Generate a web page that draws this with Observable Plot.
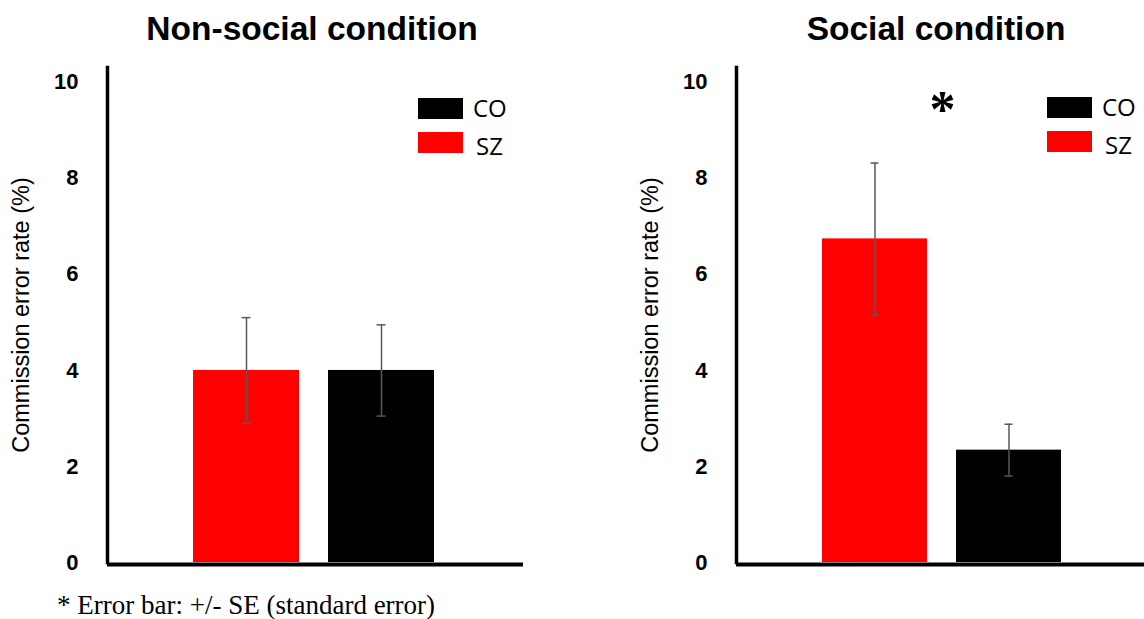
<!DOCTYPE html>
<html>
<head>
<meta charset="utf-8">
<script src="https://cdn.jsdelivr.net/npm/d3@7"></script>
<script src="https://cdn.jsdelivr.net/npm/@observablehq/plot@0.6"></script>
<style>
  html, body { margin: 0; padding: 0; background: #fff; }
  #wrap { position: relative; width: 1144px; height: 619px; overflow: hidden; }
  .panel { position: absolute; top: 0; }
  .title { position: absolute; top: 11px; width: 400px; text-align: center;
           font-family: "Liberation Sans", Arial, sans-serif; font-weight: bold;
           font-size: 33.5px; line-height: 36px; color: #000; }
  .legend { position: absolute; font-family: "Open Sans", sans-serif; font-size: 24px; color: #000; }
  .legend .sw { position: absolute; left: 0; width: 45px; height: 21px; }
  .legend .lab { position: absolute; line-height: 30px; white-space: nowrap; }
  .note { position: absolute; left: 57px; top: 591px; font-family: "Liberation Serif", "Times New Roman", serif;
          font-size: 27px; line-height: 28px; color: #000; white-space: nowrap; }
</style>
</head>
<body>
<div id="wrap"></div>
<script>
// ---- data ----
const groups = ["SZ", "CO"];
const groupColors = ["#ff0000", "#000000"];
const legendOrder = ["CO", "SZ"];
const nonSocialMean = [4.0, 4.0];
const nonSocialSE = [1.10, 0.95];
const socialMean = [6.74, 2.34];
const socialSE = [1.58, 0.54];
const yTicks = [0, 2, 4, 6, 8, 10];
const yLabel = "Commission error rate (%)";
const titles = ["Non-social condition", "Social condition"];
const sigMarks = [{group: "SZ", y: 9.6, text: "*"}];
const note = "* Error bar: +/- SE (standard error)";

const rows = (means, ses) => groups.map((g, i) => ({group: g, mean: means[i], lo: means[i] - ses[i], hi: means[i] + ses[i]}));

function panel({data, width, marginLeft, marginRight, padOuter, align, extra = []}) {
  const errStyle = {stroke: "#595959", strokeWidth: 1.5};
  return Plot.plot({
    width, height: 600,
    marginLeft, marginRight, marginTop: 67, marginBottom: 38,
    style: {fontFamily: "'Liberation Sans', Arial, sans-serif", fontSize: "22px", background: "transparent", overflow: "visible"},
    x: {domain: groups, paddingInner: 0.215, paddingOuter: padOuter, align, axis: null},
    y: {domain: [0, 10.31], axis: null},
    color: {domain: groups, range: groupColors},
    marks: [
      Plot.barY(data, {x: "group", y: "mean", fill: "group"}),
      Plot.ruleX(data, {x: "group", y1: "lo", y2: "hi", ...errStyle}),
      Plot.tickY(data, {x: "group", y: "lo", insetLeft: 48.5, insetRight: 48.5, ...errStyle}),
      Plot.tickY(data, {x: "group", y: "hi", insetLeft: 48.5, insetRight: 48.5, ...errStyle}),
      Plot.axisY(yTicks, {tickSize: 0, tickPadding: 29, fontWeight: "bold", fontSize: 22, label: null, fill: "#000"}),
      Plot.text([yLabel], {frameAnchor: "left", textAnchor: "middle", rotate: -90, dx: -86, fontSize: 23.5, fill: "#000"}),
      Plot.frame({anchor: "left", stroke: "#000", strokeWidth: 3.5}),
      Plot.ruleY([0], {stroke: "#000", strokeWidth: 4, dy: 2}),
      ...extra
    ]
  });
}

const wrap = document.getElementById("wrap");

const left = panel({data: rows(nonSocialMean, nonSocialSE), width: 572, marginLeft: 107, marginRight: 49, padOuter: 0.648, align: 0.49});
left.classList.add("panel"); left.style.left = "0px";
wrap.appendChild(left);

const right = panel({
  data: rows(socialMean, socialSE), width: 544, marginLeft: 136, marginRight: 0, padOuter: 0.619, align: 0.51,
  extra: [Plot.text(sigMarks, {x: "group", y: "y", text: "text", dx: 67.5, dy: 9, fontSize: 52, fontWeight: "bold",
                               fontFamily: "'Liberation Serif', 'Times New Roman', serif", fill: "#000"})]
});
right.classList.add("panel"); right.style.left = "600px";
wrap.appendChild(right);

// titles
[[112, titles[0]], [736, titles[1]]].forEach(([x, t]) => {
  const d = document.createElement("div");
  d.className = "title"; d.style.left = x + "px"; d.textContent = t;
  wrap.appendChild(d);
});

// legends
const colorOf = g => groupColors[groups.indexOf(g)];
const swTop = [0, 34], labMid = [10, 48], labLeft = [55, 58];
[[418, 98], [1047, 97]].forEach(([x, y]) => {
  const lg = document.createElement("div");
  lg.className = "legend"; lg.style.left = x + "px"; lg.style.top = y + "px";
  legendOrder.forEach((g, i) => {
    const sw = document.createElement("div");
    sw.className = "sw"; sw.style.top = swTop[i] + "px"; sw.style.background = colorOf(g);
    const lab = document.createElement("div");
    lab.className = "lab"; lab.style.top = (labMid[i] - 15) + "px"; lab.style.left = labLeft[i] + "px";
    lab.textContent = g;
    lg.appendChild(sw); lg.appendChild(lab);
  });
  wrap.appendChild(lg);
});

const n = document.createElement("div");
n.className = "note"; n.textContent = note;
wrap.appendChild(n);
</script>
</body>
</html>
